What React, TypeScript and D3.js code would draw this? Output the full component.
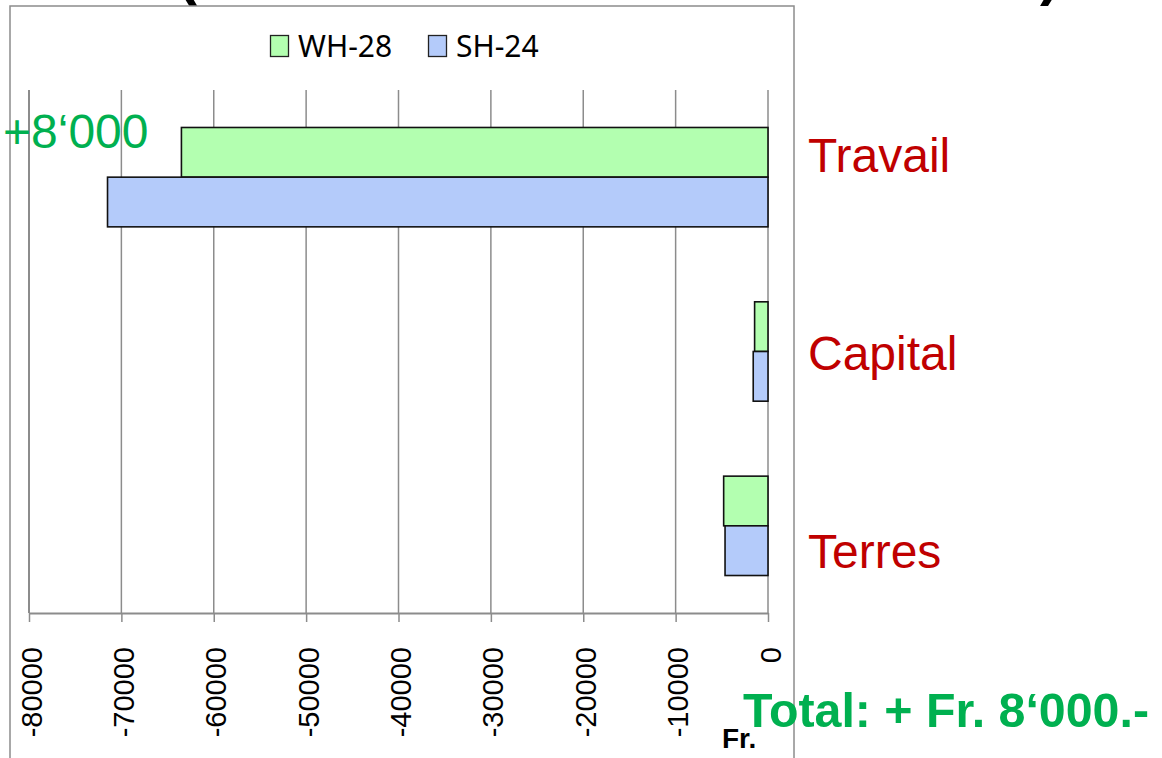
import React, { useRef, useEffect } from 'react';
import { select, scaleLinear, scaleBand, axisBottom } from 'd3';

const categories = ['Travail', 'Capital', 'Terres'];
const seriesNames = ['WH-28', 'SH-24'];
const wh28 = [-63500, -1450, -4800];
const sh24 = [-71500, -1600, -4650];
const tickValues = [-80000, -70000, -60000, -50000, -40000, -30000, -20000, -10000, 0];
const seriesColors = ['#b3ffb0', '#b4cbfa'];

const App = () => {
    const svgRef = useRef<SVGSVGElement>(null);

    useEffect(() => {
        const svg = select(svgRef.current);
        const left = 29, right = 768, top = 90, bottom = 613;

        const xScale = scaleLinear().domain([-80000, 0]).range([left, right]);
        const yScale = scaleBand().domain(categories).range([top, bottom]).paddingInner(0.43).paddingOuter(0.215);
        const inner = scaleBand().domain(seriesNames).range([0, yScale.bandwidth()]);
        const values = [wh28, sh24];

        // gridlines
        svg.select('.grid')
            .selectAll('line')
            .data(tickValues)
            .join('line')
            .attr('x1', d => xScale(d)).attr('x2', d => xScale(d))
            .attr('y1', top).attr('y2', bottom)
            .attr('stroke', '#8c8c8c').attr('stroke-width', 1.5);

        // x axis
        const xAxis = axisBottom(xScale).tickValues(tickValues).tickSize(9).tickSizeOuter(0).tickFormat(d => String(d));
        const gx = svg.select('.x-axis').attr('transform', `translate(0,${bottom})`).call(xAxis as any);
        gx.select('.domain').attr('stroke', '#8c8c8c').attr('stroke-width', 2);
        gx.selectAll('.tick line').attr('stroke', '#8c8c8c').attr('stroke-width', 1.5);
        gx.selectAll('.tick text')
            .attr('font-family', '"Liberation Sans", Arial, sans-serif')
            .attr('font-size', 29)
            .attr('fill', '#000')
            .attr('text-anchor', 'end')
            .attr('dy', null)
            .attr('y', 0)
            .attr('transform', 'translate(12,34) rotate(-90)');

        // bars
        const rows = categories.flatMap((c, i) => seriesNames.map((s, j) => ({ c, s, j, v: values[j][i] })));
        svg.select('.bars')
            .selectAll('rect')
            .data(rows)
            .join('rect')
            .attr('x', d => xScale(d.v))
            .attr('y', d => (yScale(d.c) as number) + (inner(d.s) as number))
            .attr('width', d => xScale(0) - xScale(d.v))
            .attr('height', inner.bandwidth())
            .attr('fill', d => seriesColors[d.j])
            .attr('stroke', '#111')
            .attr('stroke-width', 1.6);

        // category axis line
        svg.select('.y-axis').selectAll('line').data([0]).join('line')
            .attr('x1', left).attr('x2', left).attr('y1', top).attr('y2', bottom)
            .attr('stroke', '#8c8c8c').attr('stroke-width', 2);
    }, []);

    const sans = '"Liberation Sans", Arial, sans-serif';
    return (
        <svg ref={svgRef} width={1162} height={758} style={{ position: 'absolute', left: 0, top: 0, background: '#fff' }}>
            <text x={178} y={-6} fontFamily={sans} fontWeight="bold" fontSize={58} fill="#000">(</text>
            <text x={1040} y={-6} fontFamily={sans} fontWeight="bold" fontSize={58} fill="#000">)</text>
            <rect x={10} y={6} width={784} height={800} fill="none" stroke="#8c8c8c" strokeWidth={1.5} />
            <g className="grid" />
            <g className="bars" />
            <g className="x-axis" />
            <g className="y-axis" />
            <g fontFamily='"Noto Sans", "Open Sans", sans-serif' fontSize={30}>
                <rect x={270.5} y={35.5} width={18} height={21} fill={seriesColors[0]} stroke="#222" strokeWidth={1.3} />
                <text x={298} y={57}>{seriesNames[0]}</text>
                <rect x={428.5} y={35.5} width={18} height={21} fill={seriesColors[1]} stroke="#222" strokeWidth={1.3} />
                <text x={456} y={57}>{seriesNames[1]}</text>
            </g>
            <g fontFamily={sans} fontSize={48} fill="#c00000">
                <text x={808} y={172}>{categories[0]}</text>
                <text x={808} y={370}>{categories[1]}</text>
                <text x={808} y={568}>{categories[2]}</text>
            </g>
            <text x={3} y={148} fontFamily={sans} fontSize={48} fill="#00b050">+8‘000</text>
            <text x={722} y={748} fontFamily={sans} fontWeight="bold" fontSize={28} fill="#000">Fr.</text>
            <text x={743} y={727} fontFamily={sans} fontWeight="bold" fontSize={48} fill="#00b050"
                textLength={406} lengthAdjust="spacingAndGlyphs">Total: + Fr. 8‘000.-</text>
        </svg>
    );
};

export default App;
